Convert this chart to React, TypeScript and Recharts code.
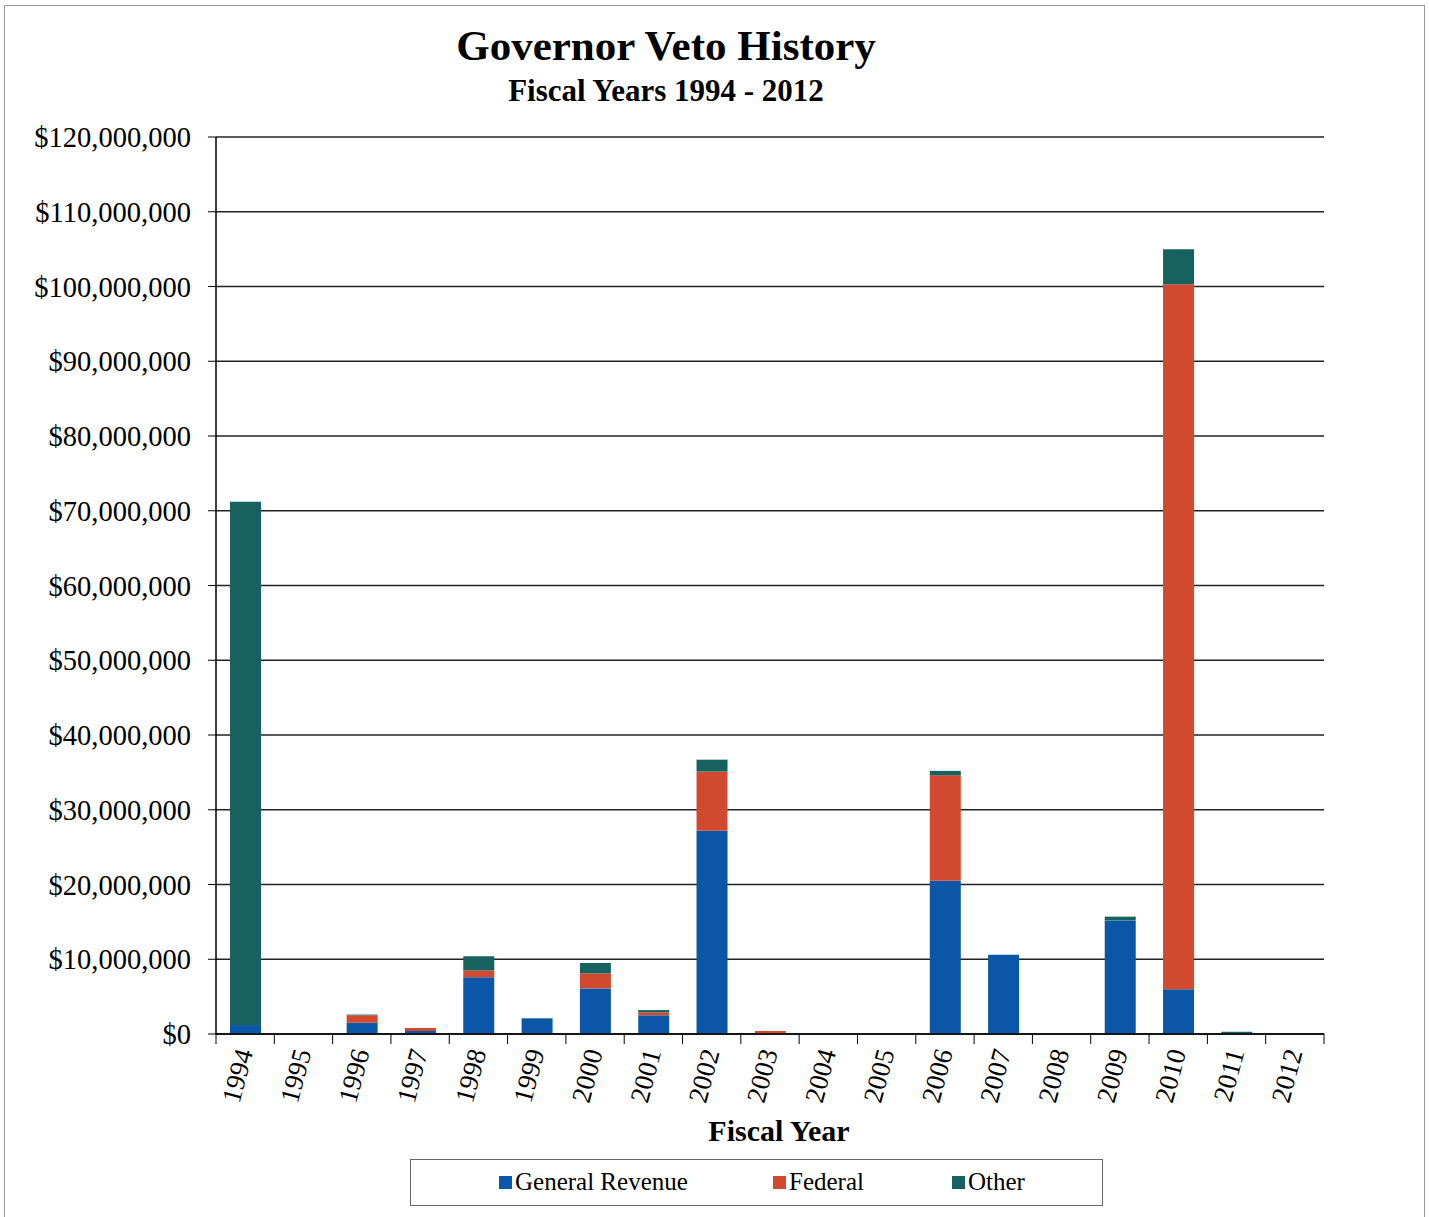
import { BarChart, Bar, XAxis, YAxis, CartesianGrid } from "recharts";

const years = [
  "1994", "1995", "1996", "1997", "1998", "1999", "2000", "2001", "2002", "2003",
  "2004", "2005", "2006", "2007", "2008", "2009", "2010", "2011", "2012",
];

// dollars
const generalRevenue = [
  1200000, 0, 1500000, 400000, 7600000, 2100000, 6100000, 2500000, 27200000, 0,
  0, 0, 20500000, 10600000, 0, 15200000, 6000000, 0, 0,
];
const federal = [
  0, 0, 1000000, 400000, 900000, 0, 2000000, 400000, 7900000, 400000,
  0, 0, 14100000, 0, 0, 0, 94300000, 0, 0,
];
const other = [
  70000000, 0, 100000, 0, 1900000, 0, 1400000, 300000, 1600000, 0,
  0, 0, 600000, 0, 0, 500000, 4700000, 300000, 0,
];

const yTicks = [
  0, 10000000, 20000000, 30000000, 40000000, 50000000, 60000000,
  70000000, 80000000, 90000000, 100000000, 110000000, 120000000,
];

const series = [
  { key: "generalRevenue", name: "General Revenue", color: "#0b56a6" },
  { key: "federal", name: "Federal", color: "#d14a30" },
  { key: "other", name: "Other", color: "#17615f" },
];

const data = years.map((year, i) => ({
  year,
  generalRevenue: generalRevenue[i],
  federal: federal[i],
  other: other[i],
}));

const FONT = "'Liberation Serif', 'Times New Roman', serif";
const BAND = (1324 - 216) / years.length;

const YearTick = (props: any) => {
  const { x, y, payload, index } = props;
  const isLast = index === years.length - 1;
  return (
    <g>
      <line x1={x - BAND / 2} y1={y - 8} x2={x - BAND / 2} y2={y + 2} stroke="#000" />
      {isLast && (
        <line x1={x + BAND / 2} y1={y - 8} x2={x + BAND / 2} y2={y + 2} stroke="#000" />
      )}
      <text
        x={x + 8}
        y={y + 10}
        transform={`rotate(-75, ${x + 8}, ${y + 10})`}
        textAnchor="end"
        fontFamily={FONT}
        fontSize={27}
        fill="#000"
      >
        {payload.value}
      </text>
    </g>
  );
};

const LegendBox = () => (
  <div
    style={{
      position: "absolute",
      left: 410,
      top: 1159,
      width: 693,
      height: 47,
      border: "1px solid #666",
      boxSizing: "border-box",
      fontFamily: FONT,
      fontSize: 25,
      color: "#000",
    }}
  >
    {series.map((s, i) => (
      <div
        key={s.key}
        style={{
          position: "absolute",
          left: [88, 362, 541][i],
          top: 8,
          display: "flex",
          alignItems: "center",
        }}
      >
        <span style={{ width: 13, height: 13, background: s.color, marginRight: 3, display: "inline-block" }} />
        <span>{s.name}</span>
      </div>
    ))}
  </div>
);

const App = () => {
  return (
    <div style={{ position: "absolute", left: 0, top: 0, width: 1429, height: 1217, background: "#fff" }}>
      <div
        style={{
          position: "absolute",
          left: 4,
          top: 5,
          width: 1419,
          height: 1214,
          border: "1px solid #9a9a9a",
        }}
      />
      <div
        style={{
          position: "absolute",
          left: 0,
          width: 1332,
          top: 21,
          textAlign: "center",
          fontFamily: FONT,
          fontWeight: "bold",
          fontSize: 43,
          lineHeight: "50px",
        }}
      >
        Governor Veto History
      </div>
      <div
        style={{
          position: "absolute",
          left: 0,
          width: 1332,
          top: 73,
          textAlign: "center",
          fontFamily: FONT,
          fontWeight: "bold",
          fontSize: 31,
          lineHeight: "36px",
        }}
      >
        Fiscal Years 1994 - 2012
      </div>
      <div
        style={{
          position: "absolute",
          left: 0,
          width: 1558,
          top: 1113,
          textAlign: "center",
          fontFamily: FONT,
          fontWeight: "bold",
          fontSize: 30,
          lineHeight: "36px",
        }}
      >
        Fiscal Year
      </div>
      <div style={{ position: "absolute", left: 0, top: 0 }}>
        <BarChart
          width={1429}
          height={1217}
          data={data}
          margin={{ top: 137, right: 105, bottom: 103, left: 0 }}
          barSize={31}
        >
          <CartesianGrid vertical={false} stroke="#222" strokeWidth={1.3} />
          <XAxis
            dataKey="year"
            axisLine={{ stroke: "#000", strokeWidth: 1.5 }}
            tickLine={false}
            interval={0}
            height={80}
            tick={<YearTick />}
          />
          <YAxis
            width={216}
            domain={[0, 120000000]}
            ticks={yTicks}
            interval={0}
            axisLine={{ stroke: "#000", strokeWidth: 1.5 }}
            tickLine={{ stroke: "#000" }}
            tickSize={8}
            tickMargin={17}
            tick={{ fontFamily: FONT, fontSize: 28.5, fill: "#000" }}
            tickFormatter={(v: number) => "$" + v.toLocaleString("en-US")}
          />
          <YAxis
            yAxisId="right"
            orientation="right"
            width={0}
            domain={[0, 120000000]}
            tick={false}
            tickLine={false}
            axisLine={{ stroke: "#000", strokeWidth: 1.5 }}
          />
          {series.map((s) => (
            <Bar
              key={s.key}
              dataKey={s.key}
              name={s.name}
              stackId="a"
              fill={s.color}
              isAnimationActive={false}
            />
          ))}
        </BarChart>
      </div>
      <LegendBox />
    </div>
  );
};

export default App;
